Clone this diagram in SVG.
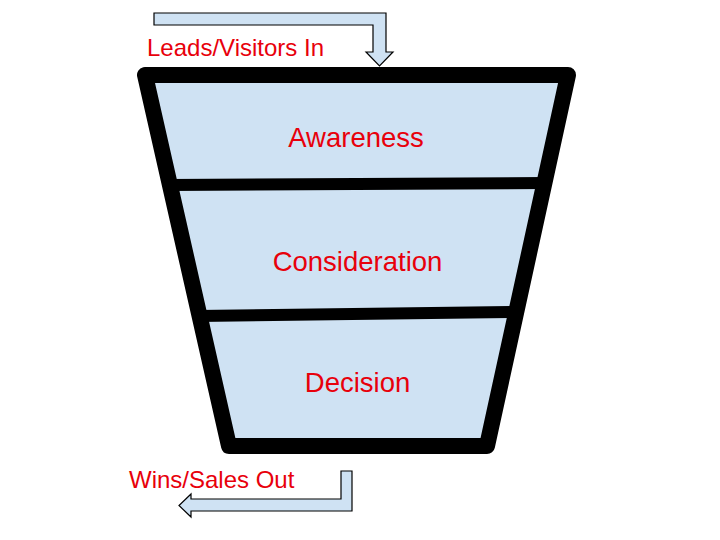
<svg xmlns="http://www.w3.org/2000/svg" width="720" height="540" viewBox="0 0 720 540">
<style>
.lbl{font-family:"Liberation Sans",Arial,sans-serif;fill:#e8000b;}
.stage{font-size:27.5px;text-anchor:middle;}
.io{font-size:24px;}
.arrow{fill:#cfe2f3;stroke:#000;stroke-width:1.2;stroke-linejoin:miter;}
.band{fill:#cfe2f3;stroke:none;}
.edge{fill:none;stroke:#000;stroke-width:16;stroke-linejoin:round;}
.div{stroke:#000;stroke-width:12;}
</style>
<rect width="720" height="540" fill="#fff"/>
<g id="connectors">
<path class="arrow" d="M154,13 L386,13 L386,52 L393,52 L379.5,66 L366,52 L373,52 L373,25 L154,25 Z"/>
<path class="arrow" d="M341,471 L352,471 L352,511 L191,511 L191,517 L179,505.5 L191,494 L191,499 L341,499 Z"/>
</g>
<g id="funnel">
<path class="band" d="M145,75 L568,75 L487,446 L229,446 Z"/>
<line class="div" x1="168" y1="185" x2="545" y2="183"/>
<line class="div" x1="198" y1="316" x2="518" y2="312"/>
<path class="edge" d="M145,75 L568,75 L487,446 L229,446 Z"/>
</g>
<g id="awareness"><text class="lbl stage" x="356" y="147">Awareness</text></g>
<g id="consideration"><text class="lbl stage" x="357.5" y="271">Consideration</text></g>
<g id="decision"><text class="lbl stage" x="357.5" y="392">Decision</text></g>
<g id="leads-in"><text class="lbl io" x="147" y="56">Leads/Visitors In</text></g>
<g id="wins-out"><text class="lbl io" x="129" y="488">Wins/Sales Out</text></g>
</svg>
